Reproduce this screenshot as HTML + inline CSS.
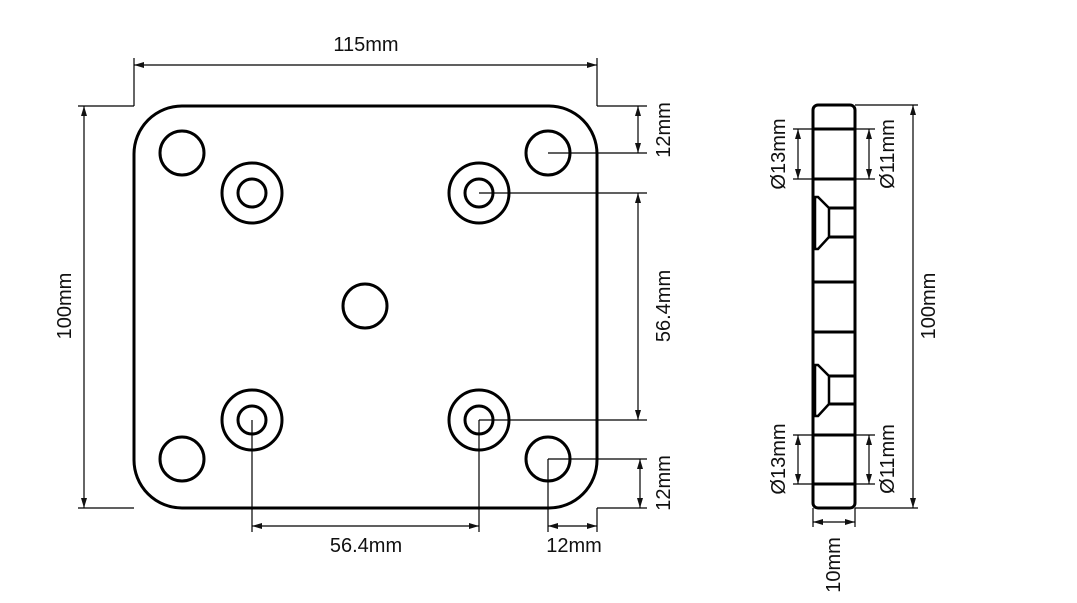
<!DOCTYPE html>
<html><head><meta charset="utf-8"><style>
html,body{margin:0;padding:0;background:#fff;}
svg{display:block;}
text{font-family:"Liberation Sans",sans-serif;font-size:20px;fill:#111;}
</style></head><body>
<svg width="1077" height="603" viewBox="0 0 1077 603" xmlns="http://www.w3.org/2000/svg">
<defs>
<marker id="a" viewBox="0 0 10 6" refX="10" refY="3" markerWidth="10" markerHeight="6" orient="auto-start-reverse" markerUnits="userSpaceOnUse">
<path d="M0,0 L10,3 L0,6 z" fill="#111"/></marker>
</defs>
<g fill="none" stroke="#000" stroke-width="3">
<rect x="134" y="106" width="463" height="402" rx="48" ry="48"/>
<circle cx="182" cy="153" r="22"/><circle cx="548" cy="153" r="22"/>
<circle cx="182" cy="459" r="22"/><circle cx="548" cy="459" r="22"/>
<circle cx="365" cy="306" r="22"/>
<circle cx="252" cy="193" r="30"/><circle cx="252" cy="193" r="14"/>
<circle cx="479" cy="193" r="30"/><circle cx="479" cy="193" r="14"/>
<circle cx="252" cy="420" r="30"/><circle cx="252" cy="420" r="14"/>
<circle cx="479" cy="420" r="30"/><circle cx="479" cy="420" r="14"/>
<!-- side view -->
<rect x="813" y="105" width="42" height="403" rx="5" ry="5"/>
<line x1="813" y1="129" x2="855" y2="129"/><line x1="813" y1="179" x2="855" y2="179"/>
<line x1="813" y1="282" x2="855" y2="282"/><line x1="813" y1="332" x2="855" y2="332"/>
<line x1="813" y1="435" x2="855" y2="435"/><line x1="813" y1="484" x2="855" y2="484"/>
<path d="M815,197 L818,197 L829,208 L829,237 L818,249 L815,249 Z" stroke-width="2.5"/>
<line x1="829" y1="208" x2="855" y2="208"/><line x1="829" y1="237" x2="855" y2="237"/>
<path d="M815,365 L818,365 L829,376 L829,404 L818,416 L815,416 Z" stroke-width="2.5"/>
<line x1="829" y1="376" x2="855" y2="376"/><line x1="829" y1="404" x2="855" y2="404"/>
</g>
<g fill="none" stroke="#000" stroke-width="1.2">
<line x1="134" y1="58" x2="134" y2="106"/><line x1="597" y1="58" x2="597" y2="106"/>
<line x1="134" y1="65" x2="597" y2="65" marker-start="url(#a)" marker-end="url(#a)"/>
<line x1="78" y1="106" x2="134" y2="106"/><line x1="78" y1="508" x2="134" y2="508"/>
<line x1="84" y1="106" x2="84" y2="508" marker-start="url(#a)" marker-end="url(#a)"/>
<line x1="597" y1="106" x2="647" y2="106"/>
<line x1="548" y1="153" x2="647" y2="153"/>
<line x1="479" y1="193" x2="647" y2="193"/>
<line x1="479" y1="420" x2="647" y2="420"/>
<line x1="548" y1="459" x2="647" y2="459"/>
<line x1="597" y1="508" x2="647" y2="508"/>
<line x1="638" y1="106" x2="638" y2="153" marker-start="url(#a)" marker-end="url(#a)"/>
<line x1="638" y1="193" x2="638" y2="420" marker-start="url(#a)" marker-end="url(#a)"/>
<line x1="640" y1="459" x2="640" y2="508" marker-start="url(#a)" marker-end="url(#a)"/>
<line x1="252" y1="420" x2="252" y2="532"/><line x1="479" y1="420" x2="479" y2="532"/>
<line x1="548" y1="459" x2="548" y2="532"/><line x1="597" y1="508" x2="597" y2="532"/>
<line x1="252" y1="526" x2="479" y2="526" marker-start="url(#a)" marker-end="url(#a)"/>
<line x1="548" y1="526" x2="597" y2="526" marker-start="url(#a)" marker-end="url(#a)"/>
<line x1="793" y1="129" x2="813" y2="129"/><line x1="793" y1="179" x2="813" y2="179"/>
<line x1="798" y1="129" x2="798" y2="179" marker-start="url(#a)" marker-end="url(#a)"/>
<line x1="855" y1="129" x2="875" y2="129"/><line x1="855" y1="179" x2="875" y2="179"/>
<line x1="869" y1="129" x2="869" y2="179" marker-start="url(#a)" marker-end="url(#a)"/>
<line x1="793" y1="435" x2="813" y2="435"/><line x1="793" y1="484" x2="813" y2="484"/>
<line x1="798" y1="435" x2="798" y2="484" marker-start="url(#a)" marker-end="url(#a)"/>
<line x1="855" y1="435" x2="875" y2="435"/><line x1="855" y1="484" x2="875" y2="484"/>
<line x1="869" y1="435" x2="869" y2="484" marker-start="url(#a)" marker-end="url(#a)"/>
<line x1="855" y1="105" x2="918" y2="105"/><line x1="855" y1="508" x2="918" y2="508"/>
<line x1="913" y1="105" x2="913" y2="508" marker-start="url(#a)" marker-end="url(#a)"/>
<line x1="813" y1="508" x2="813" y2="527"/><line x1="855" y1="508" x2="855" y2="527"/>
<line x1="813" y1="522" x2="855" y2="522" marker-start="url(#a)" marker-end="url(#a)"/>
</g>
<text x="366" y="51" text-anchor="middle">115mm</text>
<text x="366" y="552" text-anchor="middle">56.4mm</text>
<text x="574" y="552" text-anchor="middle">12mm</text>
<text transform="translate(71,306) rotate(-90)" text-anchor="middle">100mm</text>
<text transform="translate(670,130) rotate(-90)" text-anchor="middle">12mm</text>
<text transform="translate(670,306) rotate(-90)" text-anchor="middle">56.4mm</text>
<text transform="translate(670,483) rotate(-90)" text-anchor="middle">12mm</text>
<text transform="translate(785,154) rotate(-90)" text-anchor="middle">Ø13mm</text>
<text transform="translate(894,154) rotate(-90)" text-anchor="middle">Ø11mm</text>
<text transform="translate(785,459) rotate(-90)" text-anchor="middle">Ø13mm</text>
<text transform="translate(894,459) rotate(-90)" text-anchor="middle">Ø11mm</text>
<text transform="translate(935,306) rotate(-90)" text-anchor="middle">100mm</text>
<text transform="translate(840,565) rotate(-90)" text-anchor="middle">10mm</text>
</svg>
</body></html>
